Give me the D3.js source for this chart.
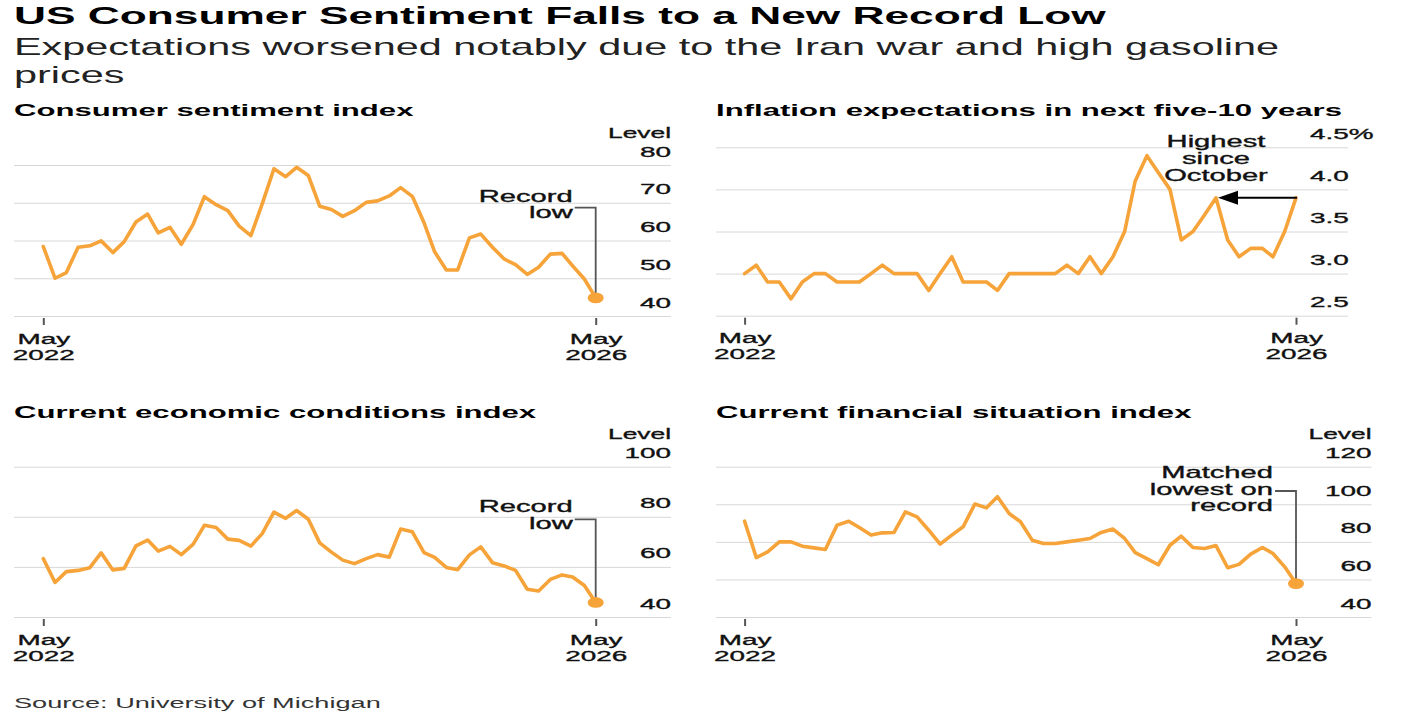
<!DOCTYPE html>
<html>
<head>
<meta charset="utf-8">
<script src="https://cdn.jsdelivr.net/npm/d3@7"></script>
<style>
  body { margin: 0; background: #fff; }
  text { font-family: "Liberation Sans", Arial, sans-serif; }
  .thick { stroke: #111; stroke-width: 0.35px; paint-order: stroke; }
</style>
</head>
<body>
<svg id="chart" width="1401" height="720"></svg>
<script>
// monthly readings, May 2022 .. May 2026
const months = d3.range(49).map(i => new Date(2022, 4 + i, 1));

const sentiment = [58.4, 50.0, 51.5, 58.2, 58.6, 59.9, 56.8, 59.7,
  64.9, 67.0, 62.0, 63.5, 59.0, 64.2, 71.6, 69.5, 67.9, 63.8, 61.3, 69.7,
  79.0, 76.9, 79.4, 77.2, 69.1, 68.2, 66.4, 67.9, 70.1, 70.5, 71.8, 74.0,
  71.7, 64.7, 57.0, 52.2, 52.2, 60.7, 61.7, 58.2, 55.1, 53.6, 51.0, 52.9,
  56.4, 56.6, 53.3, 49.8, 44.8];

const inflation = [3.0, 3.1, 2.9, 2.9, 2.7, 2.9, 3.0, 3.0,
  2.9, 2.9, 2.9, 3.0, 3.1, 3.0, 3.0, 3.0, 2.8, 3.0, 3.2, 2.9,
  2.9, 2.9, 2.8, 3.0, 3.0, 3.0, 3.0, 3.0, 3.1, 3.0, 3.2, 3.0,
  3.2, 3.5, 4.1, 4.4, 4.2, 4.0, 3.4, 3.5, 3.7, 3.9, 3.4, 3.2,
  3.3, 3.3, 3.2, 3.5, 3.9];

const conditions = [63.3, 53.8, 58.1, 58.6, 59.7, 65.6, 58.8, 59.4,
  68.4, 70.7, 66.3, 68.2, 64.9, 69.0, 76.6, 75.7, 71.1, 70.6, 68.3, 73.3,
  81.9, 79.4, 82.5, 79.0, 69.6, 65.9, 62.7, 61.3, 63.3, 64.9, 63.9, 75.1,
  74.0, 65.7, 63.8, 59.8, 58.9, 64.8, 68.0, 61.7, 60.4, 58.6, 51.1, 50.4,
  55.0, 56.8, 56.0, 52.6, 45.8];

const financial = [91.0, 71.6, 74.7, 80.0, 80.0, 77.7, 76.8, 75.9,
  88.9, 91.0, 87.6, 83.6, 84.8, 85.0, 96.0, 93.3, 86.2, 78.8, 83.6, 88.0,
  100.1, 98.1, 104.0, 95.1, 90.7, 80.9, 79.1, 79.1, 80.0, 80.9, 81.8, 85.0,
  86.8, 81.8, 74.3, 71.1, 67.8, 78.2, 83.0, 77.0, 76.5, 78.0, 66.2, 68.0,
  73.5, 77.0, 73.8, 66.7, 57.8];

const sentimentTicks = [40, 50, 60, 70, 80];
const inflationTicks = [2.5, 3.0, 3.5, 4.0, 4.5];
const conditionsTicks = [40, 60, 80, 100];
const financialTicks = [40, 60, 80, 100, 120];
const xTickLabels = [["May", "2022"], ["May", "2026"]];

const ORANGE = "#f6a33a";
const SX = 1.8;   // horizontal stretch of every label
const svg = d3.select("#chart");

function label(g, x, y, str, size, opts = {}) {
  return g.append("text")
    .attr("class", opts.cls || null)
    .attr("transform", `translate(${x},${y}) scale(${opts.sx || SX},1)`)
    .attr("text-anchor", opts.anchor || "start")
    .attr("font-size", size)
    .attr("font-weight", opts.weight || "normal")
    .attr("fill", opts.fill || "#111")
    .text(str);
}

// headline
label(svg, 14, 23.5, "US Consumer Sentiment Falls to a New Record Low", 24.6, {weight: "bold", fill: "#000"});
label(svg, 14, 55, "Expectations worsened notably due to the Iran war and high gasoline", 23, {fill: "#222"});
label(svg, 14, 83, "prices", 23, {fill: "#222"});
label(svg, 14, 708, "Source: University of Michigan", 15.1, {fill: "#333"});

function drawPanel(p) {
  const g = svg.append("g");
  const x = d3.scaleTime().domain([months[0], months[months.length - 1]]).range(p.xRange);
  const y = d3.scaleLinear().domain(p.yDomain).range(p.yRange);

  label(g, p.grid[0], p.titleY, p.title, 17.3, {weight: "bold", fill: "#000"});

  // gridlines + level labels sitting above each line
  const yAxis = g.append("g")
    .attr("transform", `translate(${p.grid[1]},0)`)
    .call(d3.axisLeft(y).tickValues(p.ticks).tickSize(p.grid[1] - p.grid[0]).tickFormat(p.fmt));
  yAxis.select(".domain").remove();
  yAxis.selectAll(".tick line").attr("stroke", "#d8d8d8").attr("stroke-width", 1);
  yAxis.selectAll(".tick text")
    .attr("class", "thick")
    .attr("x", 0).attr("y", -9).attr("dy", 0)
    .attr("text-anchor", p.labelAnchor)
    .attr("transform", `translate(${p.labelDx},0) scale(${SX},1)`)
    .attr("font-size", 15.5)
    .attr("font-family", null)
    .attr("fill", "#111");

  if (p.unit) {
    label(g, p.grid[1], y(p.ticks[p.ticks.length - 1]) - 27.5, p.unit, 15.5, {anchor: "end", sx: 1.7, cls: "thick"});
  }

  // x axis: two ticks with stacked labels
  const base = y(p.yDomain[0]);
  const xAxis = g.append("g")
    .attr("transform", `translate(0,${base + 2})`)
    .call(d3.axisBottom(x).tickValues([months[0], months[months.length - 1]]).tickSize(7).tickFormat(""));
  xAxis.select(".domain").remove();
  xAxis.selectAll(".tick line").attr("stroke", "#555").attr("stroke-width", 2);
  xAxis.selectAll(".tick").each(function (d, i) {
    const t = d3.select(this);
    label(t, 0, 25.5, xTickLabels[i][0], 15.5, {anchor: "middle", cls: "thick"});
    label(t, 0, 41.5, xTickLabels[i][1], 15.5, {anchor: "middle", cls: "thick"});
  });

  // series
  const line = d3.line().x((d, i) => x(months[i])).y(d => y(d));
  g.append("path")
    .datum(p.data)
    .attr("fill", "none")
    .attr("stroke", ORANGE)
    .attr("stroke-width", 3.6)
    .attr("stroke-linejoin", "round")
    .attr("stroke-linecap", "round")
    .attr("d", line);

  p.note(g, x, y);
}

// callout from the last point up to a text block on the left
function lastPointNote(lines, lineY, baselines) {
  return function (g, x, y) {
    const data = this.data;
    const lx = x(months[months.length - 1]), ly = y(data[data.length - 1]);
    g.append("path")
      .attr("fill", "none")
      .attr("stroke", "#555")
      .attr("stroke-width", 1.8)
      .attr("d", `M${lx - 21},${lineY}H${lx}V${ly - 4}`);
    lines.forEach((s, i) => label(g, lx - 23, baselines[i], s, 16.2, {anchor: "end", cls: "thick"}));
    g.append("ellipse")
      .attr("cx", lx).attr("cy", ly)
      .attr("rx", 8).attr("ry", 5.4)
      .attr("fill", ORANGE);
  };
}

const panels = [
  {
    title: "Consumer sentiment index", titleY: 116, data: sentiment,
    xRange: [43.3, 595.7], grid: [14, 671], yDomain: [40, 80], yRange: [316, 165],
    ticks: sentimentTicks, fmt: d3.format("d"), labelAnchor: "end", labelDx: 0, unit: "Level",
    note: lastPointNote(["Record", "low"], 207.7, [201.7, 218.3])
  },
  {
    title: "Inflation expectations in next five-10 years", titleY: 116, data: inflation,
    xRange: [744.6, 1296], grid: [716, 1348], yDomain: [2.5, 4.5], yRange: [315.7, 147.3],
    ticks: inflationTicks, fmt: d => d === 4.5 ? "4.5%" : d3.format(".1f")(d), labelAnchor: "start", labelDx: -38, unit: null,
    note: function (g, x, y) {
      const data = this.data;
      const oct = months.length - 8;   // October 2025
      const ox = x(months[oct]), oy = y(data[oct]);
      const lx = x(months[months.length - 1]);
      g.append("path")
        .attr("stroke", "#000")
        .attr("stroke-width", 2)
        .attr("d", `M${lx + 1},${oy}H${ox + 18}`);
      g.append("path")
        .attr("fill", "#000")
        .attr("d", `M${ox + 2},${oy}L${ox + 22},${oy - 7}L${ox + 22},${oy + 7}Z`);
      ["Highest", "since", "October"].forEach((s, i) =>
        label(g, ox, 147.3 + i * 16.7, s, 16.2, {anchor: "middle", cls: "thick"}));
    }
  },
  {
    title: "Current economic conditions index", titleY: 418, data: conditions,
    xRange: [43.3, 595.7], grid: [14, 671], yDomain: [40, 100], yRange: [617, 466.7],
    ticks: conditionsTicks, fmt: d3.format("d"), labelAnchor: "end", labelDx: 0, unit: "Level",
    note: lastPointNote(["Record", "low"], 519.3, [511.7, 529.3])
  },
  {
    title: "Current financial situation index", titleY: 418, data: financial,
    xRange: [744.6, 1296], grid: [716, 1371.5], yDomain: [40, 120], yRange: [617, 466.7],
    ticks: financialTicks, fmt: d3.format("d"), labelAnchor: "end", labelDx: 0, unit: "Level",
    note: lastPointNote(["Matched", "lowest on", "record"], 491, [478.3, 494.5, 510.7])
  }
];

panels.forEach(p => { p.note = p.note.bind(p); drawPanel(p); });
</script>
</body>
</html>
